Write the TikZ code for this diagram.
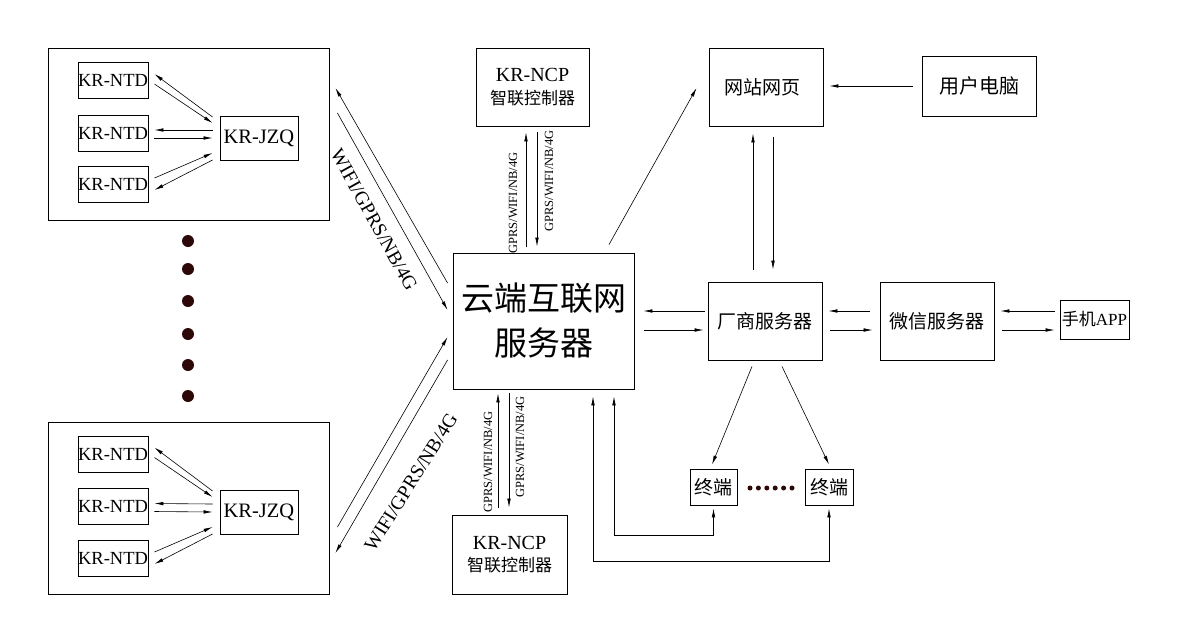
\documentclass[tikz,border=0pt]{standalone}
\usepackage{fontspec}
\setmainfont{Liberation Serif}
\newfontfamily\cjk{Noto Sans CJK SC}
\usetikzlibrary{arrows.meta,calc}
\definecolor{dotc}{RGB}{45,8,8}
\begin{document}
\begin{tikzpicture}[x=1pt,y=-1pt,
  box/.style={draw, line width=0.9pt, inner sep=0pt, align=center},
  arr/.style={line width=0.6pt, -{Latex[length=9pt,width=3.6pt]}},
  dbl/.style={line width=0.6pt, {Latex[length=9pt,width=3.6pt]}-{Latex[length=9pt,width=3.6pt]}},
  ntdbox/.style={box, minimum width=70pt, minimum height=36pt, font=\fontsize{18.5}{20}\selectfont},
  jzqbox/.style={box, minimum width=78pt, minimum height=44pt, font=\fontsize{20.5}{22}\selectfont},
  outerbox/.style={box, minimum width=281pt, minimum height=172pt},
  cnbox/.style={box, minimum width=114pt, minimum height=78pt, font=\cjk\fontsize{19}{22}\selectfont},
  smalllbl/.style={font=\fontsize{12.5}{13}\selectfont, rotate=90, inner sep=0pt},
  diaglbl/.style={font=\fontsize{19.5}{20}\selectfont, inner sep=0pt},
  bigdot/.style={fill=dotc, draw=none, circle, minimum size=12pt, inner sep=0pt},
  smalldot/.style={fill=dotc, draw=none, circle, minimum size=5pt, inner sep=0pt}
]
\useasboundingbox (0,0) rectangle (1186,633);

% ---------- top cluster ----------
\node[outerbox] (outer1) at (188.5,134) {};
\node[ntdbox] (ntd1a) at (113,80.5) {KR-NTD};
\node[ntdbox] (ntd1b) at (113,133) {KR-NTD};
\node[ntdbox] (ntd1c) at (113,184) {KR-NTD};
\node[jzqbox] (jzq1) at (259,138) {KR-JZQ};

\draw[arr] ([shift={(-7,-21)}]jzq1.west) -- ([shift={(6,-6.5)}]ntd1a.east);
\draw[arr] ([shift={(6,3.5)}]ntd1a.east) -- ([shift={(-7,-15)}]jzq1.west);
\draw[arr] ([shift={(-7,-8)}]jzq1.west) -- ([shift={(6,-3)}]ntd1b.east);
\draw[arr] ([shift={(6,5)}]ntd1b.east) -- ([shift={(-7,0)}]jzq1.west);
\draw[arr] ([shift={(6,-6)}]ntd1c.east) -- ([shift={(-7,15)}]jzq1.west);
\draw[arr] ([shift={(-7,22)}]jzq1.west) -- ([shift={(6,6)}]ntd1c.east);

% ---------- bottom cluster ----------
\node[outerbox] (outer2) at (188.5,508) {};
\node[ntdbox] (ntd2a) at (113,454) {KR-NTD};
\node[ntdbox] (ntd2b) at (113,506.5) {KR-NTD};
\node[ntdbox] (ntd2c) at (113,558) {KR-NTD};
\node[jzqbox] (jzq2) at (259,512) {KR-JZQ};

\draw[arr] ([shift={(-7,-21)}]jzq2.west) -- ([shift={(6,-6.5)}]ntd2a.east);
\draw[arr] ([shift={(6,3.5)}]ntd2a.east) -- ([shift={(-7,-15)}]jzq2.west);
\draw[arr] ([shift={(-7,-8)}]jzq2.west) -- ([shift={(6,-3)}]ntd2b.east);
\draw[arr] ([shift={(6,5)}]ntd2b.east) -- ([shift={(-7,0)}]jzq2.west);
\draw[arr] ([shift={(6,-6)}]ntd2c.east) -- ([shift={(-7,15)}]jzq2.west);
\draw[arr] ([shift={(-7,22)}]jzq2.west) -- ([shift={(6,6)}]ntd2c.east);

% ---------- dots ----------
\foreach \yy/\nm in {241/d1,269/d2,301/d3,334/d4,365/d5,396/d6}
  \node[bigdot] (\nm) at (188,\yy) {};

% ---------- cloud ----------
\node[box, minimum width=181pt, minimum height=136pt, font=\cjk\fontsize{33}{36}\selectfont] (cloud) at (543.5,321)
  {云端互联网\\[9pt] 服务器};

% diagonals
\draw[arr] ([shift={(-5,-38)}]cloud.west) -- ([shift={(6,-46)}]outer1.east);
\draw[arr] ([shift={(8,-21)}]outer1.east) -- ([shift={(-5,-11)}]cloud.west);
\draw[arr] ([shift={(8,19)}]outer2.east) -- ([shift={(-5,16)}]cloud.west);
\draw[arr] ([shift={(-5,39)}]cloud.west) -- ([shift={(6,45)}]outer2.east);
\node[diaglbl, rotate=-61] (lblA) at (374,220) {WIFI/GPRS/NB/4G};
\node[diaglbl, rotate=58] (lblB) at (411,482) {WIFI/GPRS/NB/4G};

% ---------- NCP controllers ----------
\node[box, minimum width=113pt, minimum height=78pt] (ncp1) at (532.5,87)
  {\fontsize{20}{22}\selectfont KR-NCP\\[8pt] {\cjk\fontsize{17}{19}\selectfont 智联控制器}};
\node[box, minimum width=115pt, minimum height=79pt] (ncp2) at (509.5,554.5)
  {\fontsize{20}{22}\selectfont KR-NCP\\[7pt] {\cjk\fontsize{17}{19}\selectfont 智联控制器}};

\draw[arr] ([shift={(-17.5,-6)}]cloud.north) -- ([shift={(-6.5,6)}]ncp1.south);
\draw[arr] ([shift={(4.5,6)}]ncp1.south) -- ([shift={(-6.5,-6)}]cloud.north);
\node[smalllbl] (l1) at (513,203) {GPRS/WIFI/NB/4G};
\node[smalllbl] (l2) at (549,181) {GPRS/WIFI/NB/4G};

\draw[arr] ([shift={(-11.5,-7)}]ncp2.north) -- ([shift={(-45.5,4)}]cloud.south);
\draw[arr] ([shift={(-34.5,4)}]cloud.south) -- ([shift={(-0.5,-7)}]ncp2.north);
\node[smalllbl] (l3) at (488,462) {GPRS/WIFI/NB/4G};
\node[smalllbl] (l4) at (520,447) {GPRS/WIFI/NB/4G};

% ---------- right side ----------
\node[cnbox] (web) at (766,87) {网站网页\hspace*{8pt}};
\node[box, minimum width=114pt, minimum height=60pt, font=\cjk\fontsize{20}{22}\selectfont] (pc) at (979,86) {用户电脑};
\node[cnbox] (fac) at (765,321) {厂商服务器};
\node[cnbox] (wx) at (937,321) {微信服务器};
\node[box, minimum width=69pt, minimum height=39pt, font=\fontsize{17}{19}\selectfont] (app) at (1094.5,319.5) {{\cjk 手机}APP};
\node[box, minimum width=47pt, minimum height=36pt, font=\cjk\fontsize{19}{21}\selectfont] (t1) at (713.5,487) {终端};
\node[box, minimum width=48pt, minimum height=36pt, font=\cjk\fontsize{19}{21}\selectfont] (t2) at (829,487) {终端};
\foreach \xx/\nm in {750/s1,758.4/s2,766.8/s3,775.2/s4,783.6/s5,792/s6}
  \node[smalldot] (\nm) at (\xx,488) {};

\draw[arr] ([shift={(65.5,-8)}]cloud.north) -- ([shift={(-12,1)}]web.west);
\draw[arr] ([shift={(-9,0)}]pc.west) -- ([shift={(6,-1)}]web.east);
\draw[arr] ([shift={(-12,-12)}]fac.north) -- ([shift={(-13,7)}]web.south);
\draw[arr] ([shift={(7,11)}]web.south) -- ([shift={(8,-12)}]fac.north);

\draw[arr] ([shift={(-3,-10)}]fac.west) -- ([shift={(9,-10)}]cloud.east);
\draw[arr] ([shift={(10,9)}]cloud.east) -- ([shift={(-4,9)}]fac.west);
\draw[arr] ([shift={(-10,-10)}]wx.west) -- ([shift={(6,-10)}]fac.east);
\draw[arr] ([shift={(8,9)}]fac.east) -- ([shift={(-7,9)}]wx.west);
\draw[arr] ([shift={(-5,-8.5)}]app.west) -- ([shift={(6,-10)}]wx.east);
\draw[arr] ([shift={(8,9)}]wx.east) -- ([shift={(-5,10.5)}]app.west);

\draw[arr] ([shift={(-13,6)}]fac.south) -- ([shift={(-1.5,-4)}]t1.north);
\draw[arr] ([shift={(17,6)}]fac.south) -- ([shift={(0,-4)}]t2.north);

\draw[dbl] ([shift={(70.5,7)}]cloud.south) |- ([shift={(0,30)}]t1.south) -- ([shift={(0,3)}]t1.south);
\draw[dbl] ([shift={(49.5,7)}]cloud.south) |- ([shift={(0,56)}]t2.south) -- ([shift={(0,3)}]t2.south);
\end{tikzpicture}
\end{document}
